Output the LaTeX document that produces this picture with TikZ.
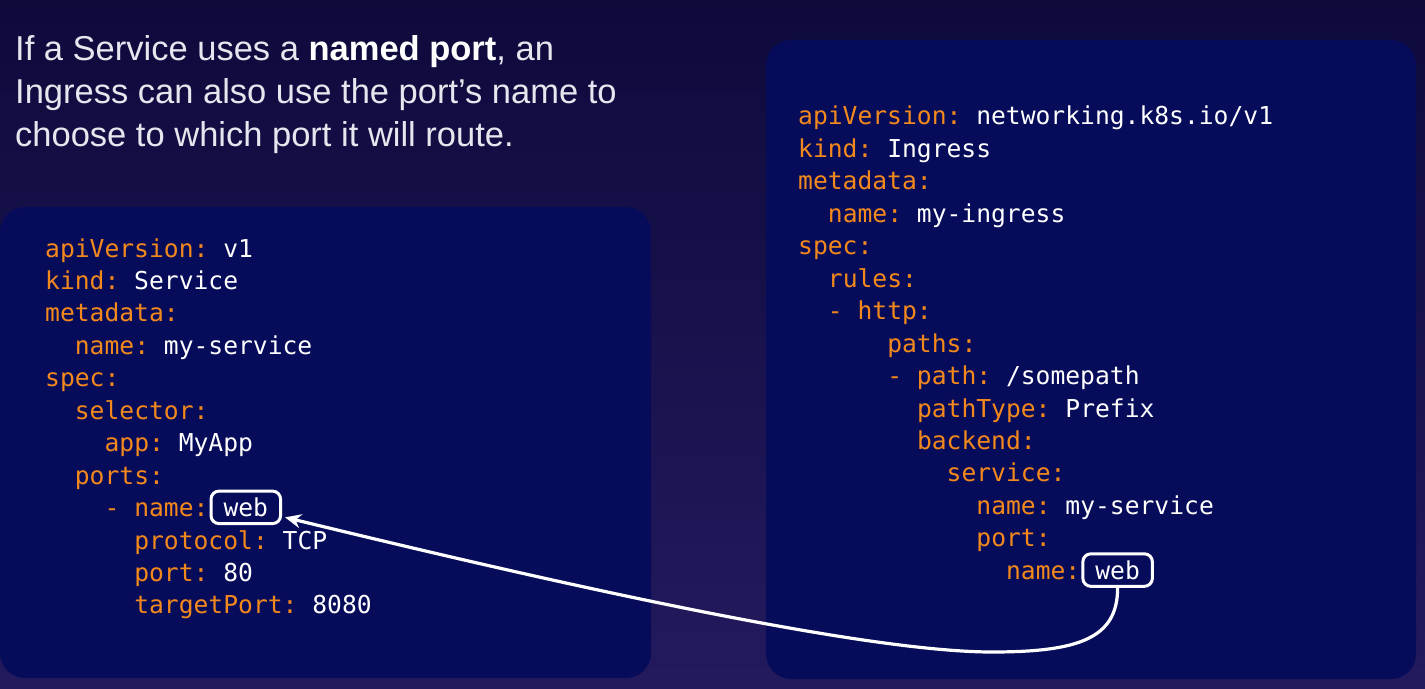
\documentclass[tikz,border=0pt]{standalone}
\usepackage{fontspec}
\setmainfont{Liberation Sans}
\newfontfamily\codefont{DejaVu Sans Mono}
\usetikzlibrary{arrows.meta,calc}
\definecolor{bgtop}{HTML}{0E0A3C}
\definecolor{bgbot}{HTML}{231A5E}
\definecolor{panel}{HTML}{060C5A}
\definecolor{keyc}{HTML}{F3891C}
\definecolor{titlec}{HTML}{E6E6EE}
\newcommand\K[1]{\textcolor{keyc}{#1}}
\frenchspacing
\begin{document}
\begin{tikzpicture}[x=1bp,y=-1bp,
  code/.style={anchor=base west, inner sep=0pt, text=white, font=\codefont\fontsize{24.65bp}{32bp}\selectfont\frenchspacing},
  webbox/.style={draw=white, line width=3bp, rounded corners=8bp, inner xsep=12.5bp, inner ysep=7bp,
    text height=18.5bp, text depth=0pt, text=white, font=\codefont\fontsize{24.65bp}{32bp}\selectfont},
  panelbox/.style={fill=panel, rounded corners=25bp},
  titletext/.style={anchor=base west, inner sep=0pt, text=titlec, font=\fontsize{34.5bp}{42.5bp}\selectfont},
  link/.style={draw=white, line width=3.2bp, -{Stealth[length=16bp,width=14bp]}}
]
\shade[top color=bgtop, bottom color=bgbot] (0,0) rectangle (1425,689);
\useasboundingbox (0,0) rectangle (1425,689);

% panels
\path[panelbox] (0,207) rectangle (651,678);
\path[panelbox] (766,40) rectangle (1416,679);

% title
\node[titletext] (t1) at (15,61) {If a Service uses a \textbf{\textcolor{white}{named port}}, an};
\node[titletext] (t2) at (15,103.5) {Ingress can also use the port’s name to};
\node[titletext] (t3) at (15,146) {choose to which port it will route.};

% left code
\node[code] (L0) at (45,257) {\K{apiVersion:} v1};
\node[code] (L1) at (45,289.45) {\K{kind:} Service};
\node[code] (L2) at (45,321.9) {\K{metadata:}};
\node[code] (L3) at (74.7,354.35) {\K{name:} my-service};
\node[code] (L4) at (45,386.8) {\K{spec:}};
\node[code] (L5) at (74.7,419.25) {\K{selector:}};
\node[code] (L6) at (104.4,451.7) {\K{app:} MyApp};
\node[code] (L7) at (74.7,484.15) {\K{ports:}};
\node[code] (L8) at (104.4,516.6) {\K{- name:}};
\node[webbox, anchor=text] (webL) at ([xshift=14.85bp]L8.base east) {web};
\node[code] (L9) at (134.1,549.05) {\K{protocol:} TCP};
\node[code] (L10) at (134.1,581.5) {\K{port:} 80};
\node[code] (L11) at (134.1,613.95) {\K{targetPort:} 8080};

% right code
\node[code] (R0) at (798,125) {\K{apiVersion:} networking.k8s.io/v1};
\node[code] (R1) at (798,157.45) {\K{kind:} Ingress};
\node[code] (R2) at (798,189.9) {\K{metadata:}};
\node[code] (R3) at (827.7,222.35) {\K{name:} my-ingress};
\node[code] (R4) at (798,254.8) {\K{spec:}};
\node[code] (R5) at (827.7,287.25) {\K{rules:}};
\node[code] (R6) at (827.7,319.7) {\K{- http:}};
\node[code] (R7) at (887.1,352.15) {\K{paths:}};
\node[code] (R8) at (887.1,384.6) {\K{- path:} /somepath};
\node[code] (R9) at (916.8,417.05) {\K{pathType:} Prefix};
\node[code] (R10) at (916.8,449.5) {\K{backend:}};
\node[code] (R11) at (946.5,481.95) {\K{service:}};
\node[code] (R12) at (976.2,514.4) {\K{name:} my-service};
\node[code] (R13) at (976.2,546.85) {\K{port:}};
\node[code] (R14) at (1005.9,579.3) {\K{name:}};
\node[webbox, anchor=text] (webR) at ([xshift=14.85bp]R14.base east) {web};

% connector
\coordinate (bend) at (992,652);
\draw[link] (webR.south) .. controls +(0,50) and +(88,0) .. (bend)
  .. controls +(-142,0) and +(214,52) .. ($(webL.east)+(3,10)$);
\end{tikzpicture}
\end{document}
